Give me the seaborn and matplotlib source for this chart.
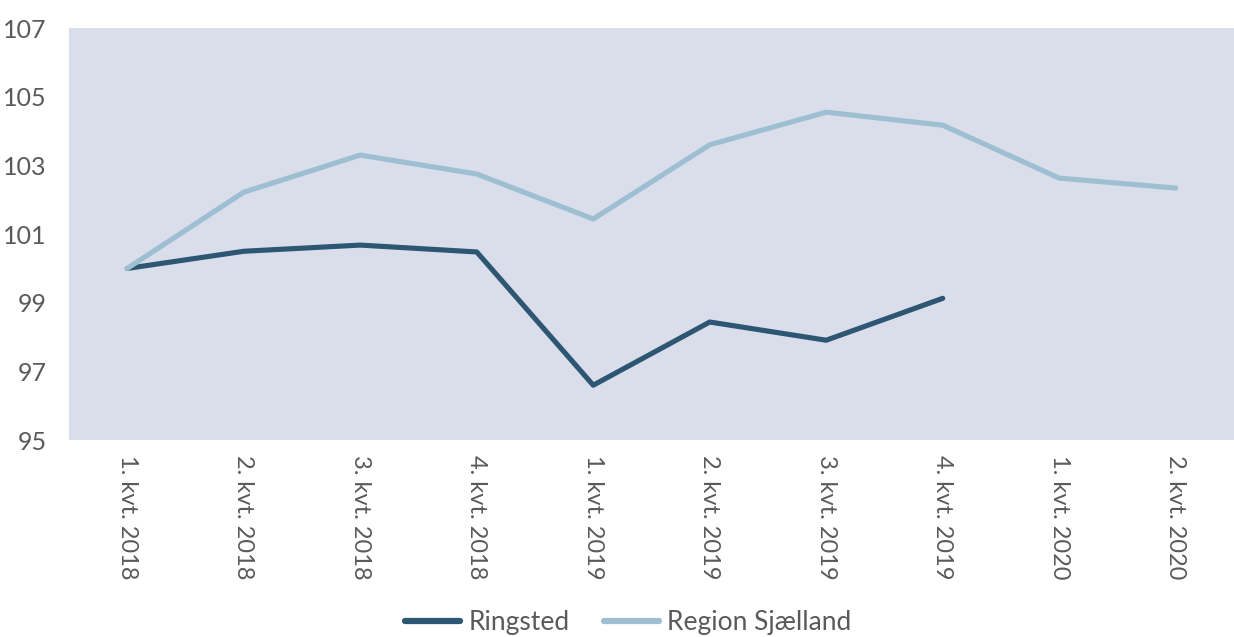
import matplotlib
matplotlib.use("Agg")
import matplotlib.pyplot as plt
import seaborn as sns
import pandas as pd

quarters = ["1. kvt. 2018", "2. kvt. 2018", "3. kvt. 2018", "4. kvt. 2018",
            "1. kvt. 2019", "2. kvt. 2019", "3. kvt. 2019", "4. kvt. 2019",
            "1. kvt. 2020", "2. kvt. 2020"]
ringsted = [100.0, 100.5, 100.68, 100.48, 96.6, 98.44, 97.91, 99.13]
region = [100.0, 102.22, 103.3, 102.75, 101.44, 103.6, 104.55, 104.17, 102.63, 102.34]

df = pd.concat([
    pd.DataFrame({"kvartal": quarters[:len(ringsted)], "indeks": ringsted, "serie": "Ringsted"}),
    pd.DataFrame({"kvartal": quarters, "indeks": region, "serie": "Region Sjælland"}),
])

sns.set_style("white")
plt.rcParams["font.family"] = ["Lato", "DejaVu Sans"]

txt = "#5a5a5a"
fig = plt.figure(figsize=(12.34, 6.37), dpi=100)
ax = fig.add_axes([0.0559, 0.309, 0.9441, 0.647])
ax.set_facecolor("#dadeeb")

sns.lineplot(data=df, x="kvartal", y="indeks", hue="serie", sort=False,
             palette={"Ringsted": "#2d5672", "Region Sjælland": "#9dbfd1"},
             linewidth=3.7, solid_capstyle="round", ax=ax)

ax.set_xlim(-0.5, len(quarters) - 0.5)
ax.set_ylim(95, 107)
ax.set_yticks(range(95, 108, 2))
for s in ax.spines.values():
    s.set_visible(False)
ax.tick_params(axis="y", length=0, pad=16, labelsize=18, labelcolor=txt)
ax.tick_params(axis="x", length=0, pad=11, labelsize=17, labelcolor=txt)
plt.setp(ax.get_xticklabels(), rotation=270, ha="center", va="top")
ax.set_xlabel("")
ax.set_ylabel("")

leg = ax.legend(loc="lower center", bbox_to_anchor=(0.48, -0.53), ncol=2,
                frameon=False, fontsize=19, handlelength=2.1, columnspacing=1.3,
                handletextpad=0.3, labelcolor=txt)
for line in leg.get_lines():
    line.set_linewidth(4.5)
    line.set_solid_capstyle("round")

fig.savefig("out.png", dpi=100)
